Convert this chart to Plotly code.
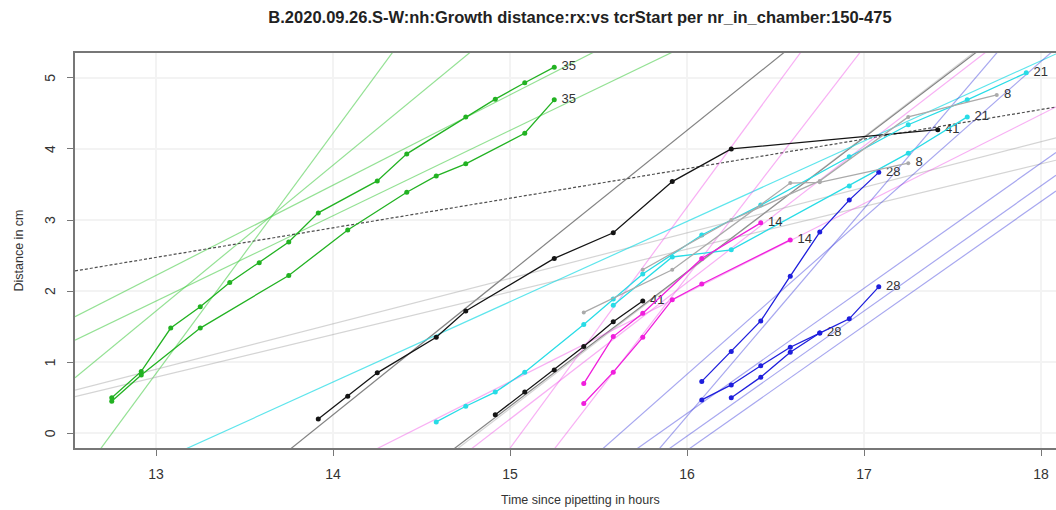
import plotly.graph_objects as go

# ---- measured series (time in hours since pipetting, distance in cm) ----
green_a_t = [12.75, 12.9167, 13.0833, 13.25, 13.4167, 13.5833, 13.75, 13.9167, 14.25, 14.4167, 14.75, 14.9167, 15.0833, 15.25]
green_a_y = [0.50, 0.87, 1.48, 1.78, 2.12, 2.40, 2.69, 3.10, 3.55, 3.93, 4.45, 4.70, 4.93, 5.15]
green_b_t = [12.75, 12.9167, 13.25, 13.75, 14.0833, 14.4167, 14.5833, 14.75, 15.0833, 15.25]
green_b_y = [0.45, 0.82, 1.48, 2.22, 2.86, 3.39, 3.62, 3.79, 4.22, 4.69]

black_a_t = [13.9167, 14.0833, 14.25, 14.5833, 14.75, 15.25, 15.5833, 15.9167, 16.25, 17.4167]
black_a_y = [0.20, 0.52, 0.85, 1.35, 1.72, 2.46, 2.82, 3.54, 4.00, 4.27]
black_b_t = [14.9167, 15.0833, 15.25, 15.4167, 15.5833, 15.75]
black_b_y = [0.26, 0.58, 0.89, 1.22, 1.57, 1.86]

cyan_a_t = [14.5833, 14.75, 14.9167, 15.0833, 15.4167, 15.5833, 15.75, 16.0833, 16.4167, 16.9167, 17.25, 17.5833, 17.9167]
cyan_a_y = [0.16, 0.38, 0.58, 0.86, 1.53, 1.89, 2.24, 2.79, 3.21, 3.89, 4.34, 4.69, 5.07]
cyan_b_t = [15.5833, 15.9167, 16.25, 16.9167, 17.25, 17.5833]
cyan_b_y = [1.80, 2.48, 2.58, 3.48, 3.94, 4.45]

magenta_a_t = [15.4167, 15.5833, 15.75, 16.0833, 16.4167]
magenta_a_y = [0.70, 1.36, 1.69, 2.46, 2.96]
magenta_b_t = [15.4167, 15.5833, 15.75, 15.9167, 16.0833, 16.5833]
magenta_b_y = [0.42, 0.86, 1.35, 1.88, 2.10, 2.72]

blue_a_t = [16.0833, 16.25, 16.4167, 16.5833, 16.75, 16.9167, 17.0833]
blue_a_y = [0.73, 1.15, 1.58, 2.21, 2.83, 3.28, 3.67]
blue_b_t = [16.0833, 16.25, 16.4167, 16.5833, 16.75]
blue_b_y = [0.47, 0.68, 0.95, 1.21, 1.41]
blue_c_t = [16.25, 16.4167, 16.5833, 16.75, 16.9167, 17.0833]
blue_c_y = [0.50, 0.79, 1.14, 1.41, 1.61, 2.06]

gray_a_t = [15.75, 16.25, 16.75, 17.25, 17.75]
gray_a_y = [2.30, 3.00, 3.55, 4.45, 4.76]
gray_b_t = [15.4167, 15.9167, 16.5833, 16.75, 17.25]
gray_b_y = [1.70, 2.30, 3.52, 3.53, 3.80]

series_names = ["35", "35", "41", "41", "21", "21", "14", "14", "28", "28", "28", "8", "8"]
series_t = [green_a_t, green_b_t, black_a_t, black_b_t, cyan_a_t, cyan_b_t,
            magenta_a_t, magenta_b_t, blue_a_t, blue_b_t, blue_c_t, gray_a_t, gray_b_t]
series_y = [green_a_y, green_b_y, black_a_y, black_b_y, cyan_a_y, cyan_b_y,
            magenta_a_y, magenta_b_y, blue_a_y, blue_b_y, blue_c_y, gray_a_y, gray_b_y]
series_group = ["green", "green", "black", "black", "cyan", "cyan",
                "magenta", "magenta", "blue", "blue", "blue", "gray", "gray"]

# ---- regression lines: distance = intercept + slope * time ----
fit_group = ["green", "green", "green", "green", "black", "black", "black", "gray", "magenta",
             "gray", "gray", "cyan", "magenta", "magenta", "magenta",
             "blue", "blue", "blue", "blue", "blue"]
fit_intercept = [-43.10, -14.29, -13.74, -24.93, -2.934, -27.74, -27.97, -28.30, -28.60,
                 -7.42, -7.01, -15.10, -51.06, -49.48, -18.07,
                 -34.37, -27.88, -28.20, -28.24, -46.48]
fit_slope = [3.38, 1.27, 1.20, 2.05, 0.416, 2.00, 1.89, 1.91, 1.92,
             0.64, 0.60, 1.13, 3.39, 3.23, 1.253,
             2.20, 1.76, 1.76, 1.75, 2.92]
fit_dashed = [False, False, False, False, True, False, False, False, False,
              False, False, False, False, False, False,
              False, False, False, False, False]

x_ticks = [13, 14, 15, 16, 17, 18]
y_ticks = [0, 1, 2, 3, 4, 5]
x_range = [12.5424, 18.0847]
y_range = [-0.2068, 5.349]

point_colors = {
    "green": "rgb(34,178,34)",
    "black": "rgb(20,20,20)",
    "cyan": "rgb(40,220,230)",
    "magenta": "rgb(240,30,220)",
    "blue": "rgb(30,30,220)",
    "gray": "rgb(170,170,170)",
}
fit_colors = {
    "green": "rgba(60,200,60,0.55)",
    "black": "rgba(90,90,90,0.75)",
    "cyan": "rgba(40,220,230,0.75)",
    "magenta": "rgba(240,80,230,0.45)",
    "blue": "rgba(60,60,220,0.45)",
    "gray": "rgba(160,160,160,0.45)",
}

FONT = "Liberation Sans, Arial, sans-serif"
TEXT_COLOR = "#333333"

fig = go.Figure()

# regression lines spanning the full time range
for grp, a, b, dashed in zip(fit_group, fit_intercept, fit_slope, fit_dashed):
    xs = list(x_range)
    ys = [a + b * xv for xv in xs]
    fig.add_trace(go.Scatter(
        x=xs, y=ys, mode="lines",
        line=dict(color="rgba(60,60,60,0.9)" if dashed else fit_colors[grp],
                  width=1.2, dash="3px,2px" if dashed else "solid"),
        hoverinfo="skip", showlegend=False,
    ))

# measured tracks with end labels
for name, ts, ys, grp in zip(series_names, series_t, series_y, series_group):
    size = 4 if grp == "gray" else 5
    fig.add_trace(go.Scatter(
        x=ts, y=ys, mode="lines+markers",
        line=dict(color=point_colors[grp], width=1.3),
        marker=dict(color=point_colors[grp], size=size),
        showlegend=False,
    ))
    fig.add_trace(go.Scatter(
        x=[ts[-1]], y=[ys[-1]], mode="text", text=["  " + name],
        textposition="middle right",
        textfont=dict(family=FONT, size=13, color=TEXT_COLOR),
        showlegend=False, hoverinfo="skip",
    ))

# rotated y tick labels, set a little away from the axis
for v in y_ticks:
    fig.add_annotation(
        x=0, xref="paper", y=v, yref="y", xshift=-25,
        text=str(v), textangle=-90, showarrow=False,
        xanchor="center", yanchor="middle",
        font=dict(family=FONT, size=14, color=TEXT_COLOR),
    )

# axis titles
fig.add_annotation(
    x=(580 - 75) / 981, xref="paper", y=-52 / 395, yref="paper",
    text="Time since pipetting in hours", showarrow=False,
    xanchor="center", yanchor="middle",
    font=dict(family=FONT, size=12.5, color=TEXT_COLOR),
)
fig.add_annotation(
    x=-57 / 981, xref="paper", y=0.5, yref="paper",
    text="Distance in cm", textangle=-90, showarrow=False,
    xanchor="center", yanchor="middle",
    font=dict(family=FONT, size=12.5, color=TEXT_COLOR),
)

fig.update_layout(
    width=1056, height=510,
    margin=dict(l=75, r=0, t=53, b=62),
    paper_bgcolor="white", plot_bgcolor="white",
    title=dict(
        text="<b>B.2020.09.26.S-W:nh:Growth distance:rx:vs tcrStart per nr_in_chamber:150-475</b>",
        x=580 / 1056, xref="container", xanchor="center", y=1 - 17 / 510, yanchor="middle",
        font=dict(family=FONT, size=16.5, color="#222222"),
    ),
    xaxis=dict(
        range=x_range, tickvals=x_ticks, ticktext=[str(v) for v in x_ticks],
        showline=True, linecolor="#777777", linewidth=2, mirror=True,
        ticks="outside", ticklen=6, tickcolor="#777777", ticklabelstandoff=6,
        showgrid=True, gridcolor="#f3f3f3", gridwidth=2, zeroline=False,
        tickfont=dict(family=FONT, size=14, color=TEXT_COLOR),
    ),
    yaxis=dict(
        range=y_range, tickvals=y_ticks, showticklabels=False,
        showline=True, linecolor="#777777", linewidth=2,
        ticks="outside", ticklen=6, tickcolor="#777777",
        showgrid=True, gridcolor="#f3f3f3", gridwidth=2, zeroline=False,
    ),
)

fig.write_html("out.html")
